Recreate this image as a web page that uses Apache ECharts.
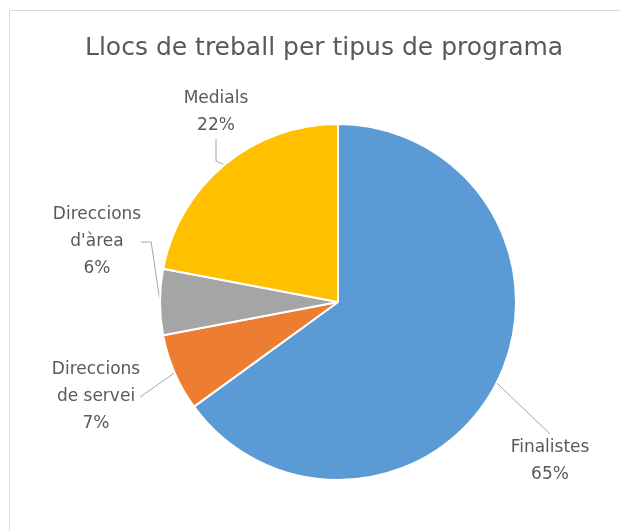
<!DOCTYPE html>
<html>
<head>
<meta charset="utf-8">
<script src="https://cdn.jsdelivr.net/npm/echarts@6/dist/echarts.min.js"></script>
<style>
html, body { margin: 0; padding: 0; background: #fff; }
#main { width: 620px; height: 531px; }
</style>
</head>
<body>
<div id="main"></div>
<script>
// dades del gràfic
var categories = ['Finalistes', 'Direccions de servei', "Direccions d'àrea", 'Medials'];
var labelTexts = ['Finalistes', 'Direccions\nde servei', "Direccions\nd'àrea", 'Medials'];
var values = [65, 7, 6, 22];
var colors = ['#5B9BD5', '#ED7D31', '#A5A5A5', '#FFC000'];

// posicions de les etiquetes (centre del text) i llargada de la línia
var labelPos = [
    [550, 461],
    [96, 397],
    [97, 242],
    [216, 112]
];
var lineLen2 = [0, 0, 10, 22];

var chart = echarts.init(document.getElementById('main'));

var option = {
    animation: false,
    title: {
        text: 'Llocs de treball per tipus de programa',
        left: 80,
        top: 31,
        textStyle: {
            fontFamily: 'DejaVu Sans',
            fontWeight: 'normal',
            fontSize: 25,
            color: '#595959'
        }
    },
    graphic: [{
        type: 'rect',
        shape: { x: 9.5, y: 10.5, width: 700, height: 600 },
        style: { fill: 'none', stroke: '#d9d9d9', lineWidth: 1 },
        silent: true
    }],
    series: [{
        type: 'pie',
        center: [338, 302],
        radius: 178,
        startAngle: 90,
        clockwise: true,
        itemStyle: {
            borderColor: '#fff',
            borderWidth: 2
        },
        label: {
            show: true,
            position: 'outside',
            formatter: function (p) {
                return labelTexts[p.dataIndex] + '\n' + p.value + '%';
            },
            fontFamily: 'DejaVu Sans',
            fontSize: 17,
            lineHeight: 27,
            color: '#595959',
            align: 'center'
        },
        labelLine: {
            show: true,
            lineStyle: { color: '#a6a6a6', width: 1 }
        },
        labelLayout: function (params) {
            var p = labelPos[params.dataIndex];
            return {
                x: p[0],
                y: p[1],
                align: 'center',
                verticalAlign: 'middle'
            };
        },
        data: categories.map(function (name, i) {
            return {
                name: name,
                value: values[i],
                itemStyle: { color: colors[i] },
                labelLine: { length2: lineLen2[i] }
            };
        })
    }]
};

chart.setOption(option);
</script>
</body>
</html>
